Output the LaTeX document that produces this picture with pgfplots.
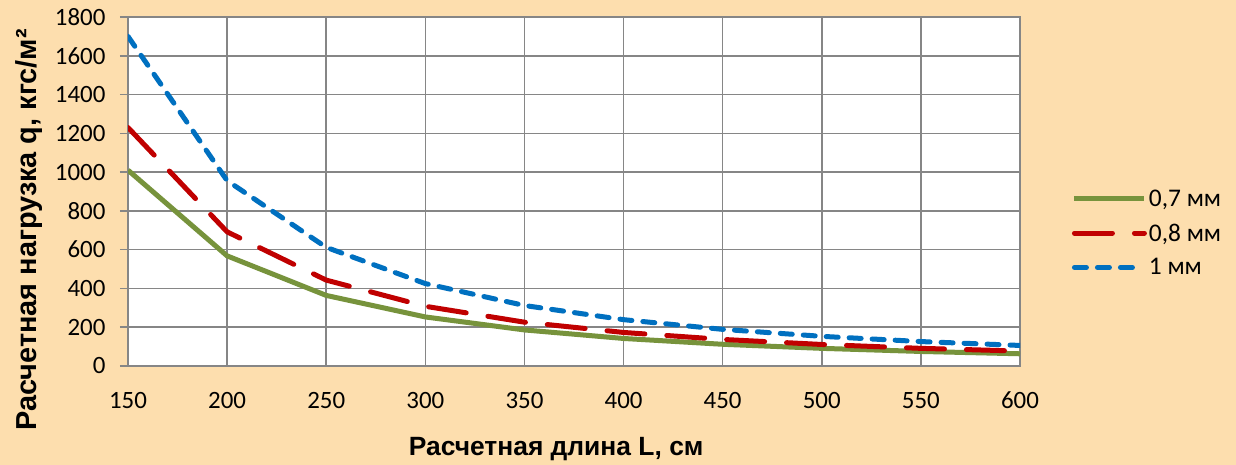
\documentclass[border=0pt]{standalone}
\usepackage{fontspec}
\setmainfont{Carlito}
\newfontfamily\arialfont{Liberation Sans}
\usepackage{pgfplots}
\pgfplotsset{compat=1.18}
\pgfplotsset{shortlegend/.style={legend image code/.code={\draw[##1] (0bp,0bp) -- (62bp,0bp);}}}
\definecolor{bg}{RGB}{253,222,174}
\definecolor{gridc}{RGB}{134,134,134}
\definecolor{cgreen}{RGB}{119,147,60}
\definecolor{cred}{RGB}{192,0,0}
\definecolor{cblue}{RGB}{0,112,192}
\begin{document}
\begin{tikzpicture}
\fill[bg] (0bp,0bp) rectangle (1236bp,465bp);
\useasboundingbox (0bp,0bp) rectangle (1236bp,465bp);
\begin{axis}[
  scale only axis, width=892bp, height=349bp,
  at={(128bp,99bp)}, anchor=south west,
  xmin=150, xmax=600, ymin=0, ymax=1800,
  xtick={150,200,250,300,350,400,450,500,550,600},
  xticklabels={150,200,250,300,350,400,450,500,550,600},
  ytick={0,200,...,1800},
  grid=major, major grid style={gridc, line width=1.5bp},
  axis line style={gridc, line width=1.5bp},
  tick style={gridc, line width=1.5bp},
  major tick length=8bp, tick align=outside,
  xtick pos=bottom, ytick pos=left,
  xtick style={draw=none},
  axis background/.style={fill=white},
  ticklabel style={font=\fontsize{25}{30}\selectfont, text=black},
  /pgf/number format/assume math mode=true,
  /pgf/number format/1000 sep={},
  xticklabel style={anchor=base, inner sep=0pt, yshift=-34bp},
  yticklabel style={anchor=east, xshift=-11bp},
  xlabel={Расчетная длина L, см},
  ylabel={Расчетная нагрузка q, кгс/м²},
  xlabel style={font=\arialfont\bfseries\fontsize{26.5}{30}\selectfont, at={(axis description cs:0.48,0)}, anchor=center, yshift=-83bp},
  ylabel style={font=\arialfont\bfseries\fontsize{29}{32}\selectfont, at={(axis description cs:-0.111,0.39)}, anchor=center, rotate=0},
  legend style={draw=none, fill=none, at={(axis description cs:1.058,0.381)}, anchor=west, font=\fontsize{25.5}{28}\selectfont, row sep=12bp, inner sep=0pt},
  legend cell align=left,
  legend image code/.code={\draw[#1] (0bp,0bp) -- (70bp,0bp);},
]
\addplot[cgreen, line width=5bp, line join=round] coordinates {
(150,1010) (200,568) (250,364) (300,253) (350,186) (400,142) (450,112) (500,91) (550,75) (600,63)};
\addlegendentry{0,7 мм}
\addplot[cred, line width=5bp, line cap=round, line join=round, dash pattern=on 38bp off 22bp] coordinates {
(150,1230) (200,692) (250,443) (300,308) (350,226) (400,173) (450,137) (500,111) (550,91) (600,77)};
\addlegendentry{0,8 мм}
\addplot[cblue, line width=5bp, line cap=round, line join=round, dash pattern=on 12bp off 11bp, shortlegend] coordinates {
(150,1700) (200,956) (250,612) (300,425) (350,312) (400,239) (450,189) (500,153) (550,126) (600,106)};
\addlegendentry{1 мм}
\end{axis}
\end{tikzpicture}
\end{document}
